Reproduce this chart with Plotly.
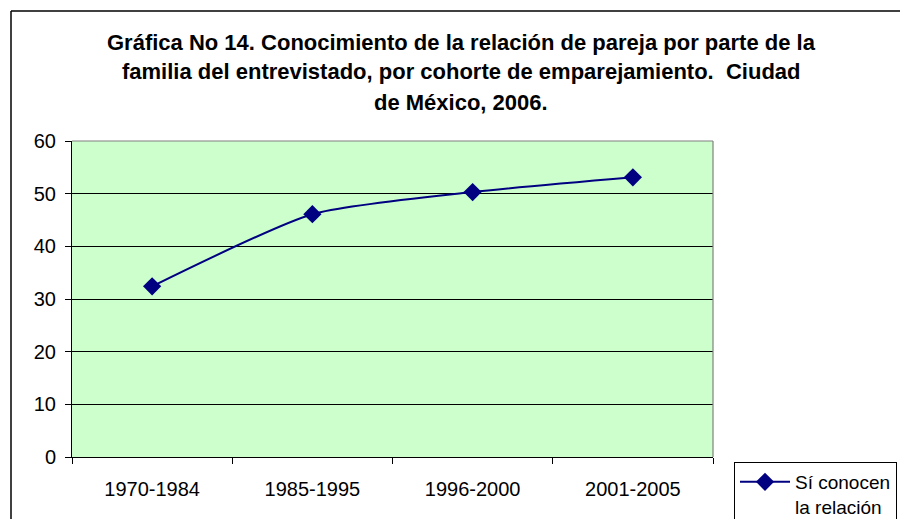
import plotly.graph_objects as go

categories = ["1970-1984", "1985-1995", "1996-2000", "2001-2005"]
values = [32.4, 46.1, 50.3, 53.1]
series_name = "Sí conocen<br>la relación"
title_lines = [
    "Gráfica No 14. Conocimiento de la relación de pareja por parte de la",
    "familia del entrevistado, por cohorte de emparejamiento.  Ciudad",
    "de México, 2006.",
]

FONT = "Liberation Sans, Arial, sans-serif"
L, R, T, B = 72, 713, 141, 457  # plot area in screen pixels
W, H = 900, 519

def px(x):
    return (x - L) / (R - L)

def py(y):
    return (B - y) / (B - T)

fig = go.Figure()
fig.add_trace(go.Scatter(
    x=categories, y=values, name=series_name, mode="lines+markers",
    line=dict(color="#000080", width=2, shape="spline", smoothing=0.6),
    marker=dict(symbol="diamond", size=14, color="#000080"),
))

annotations = []
for i, t in enumerate(title_lines):
    annotations.append(dict(
        text="<b>" + t + "</b>", x=px(461), y=py(42 + 30 * i), xref="paper", yref="paper",
        showarrow=False, xanchor="center", yanchor="middle",
        font=dict(family=FONT, size=22, color="black"),
    ))

shapes = [
    dict(type="line", xref="paper", yref="paper", x0=px(11), x1=px(11), y0=py(11), y1=py(H),
         line=dict(color="black", width=1.5), layer="above"),
    dict(type="line", xref="paper", yref="paper", x0=px(11), x1=px(W), y0=py(11), y1=py(11),
         line=dict(color="black", width=1.5), layer="above"),
    dict(type="line", xref="paper", yref="paper", x0=0, x1=1, y0=1, y1=1,
         line=dict(color="#808080", width=1.2), layer="above"),
    dict(type="line", xref="paper", yref="paper", x0=1, x1=1, y0=0, y1=1,
         line=dict(color="#808080", width=1.2), layer="above"),
]

fig.update_layout(
    width=W, height=H,
    margin=dict(l=L, r=W - R, t=T, b=H - B, pad=0, autoexpand=False),
    paper_bgcolor="white", plot_bgcolor="#CCFFCC",
    font=dict(family=FONT, size=20, color="black"),
    showlegend=True,
    legend=dict(xref="container", yref="container",
                x=734 / W, y=1 - 462 / H, xanchor="left", yanchor="top",
                bgcolor="white", bordercolor="black", borderwidth=1,
                font=dict(family=FONT, size=19), valign="top", tracegroupgap=0,
                itemwidth=50),
    annotations=annotations,
    shapes=shapes,
    xaxis=dict(type="category", range=[-0.5, 3.5], tickson="boundaries", ticks="outside",
               ticklen=6, tickcolor="black", showline=True, linecolor="black", linewidth=1,
               showgrid=False, tickfont=dict(size=20), ticklabelstandoff=14,
               fixedrange=True),
    yaxis=dict(range=[0, 60], dtick=10, ticks="outside", ticklen=6, tickcolor="black",
               showline=True, linecolor="black", linewidth=1, showgrid=True,
               gridcolor="black", gridwidth=1, zeroline=False, tickfont=dict(size=20),
               ticklabelstandoff=5),
)

fig.write_html(
    "out.html",
    config={"displayModeBar": False},
    post_script=(
        "document.body.style.margin='0';"
        "document.body.style.overflow='hidden';"
        "document.documentElement.style.overflow='hidden';"
    ),
)
